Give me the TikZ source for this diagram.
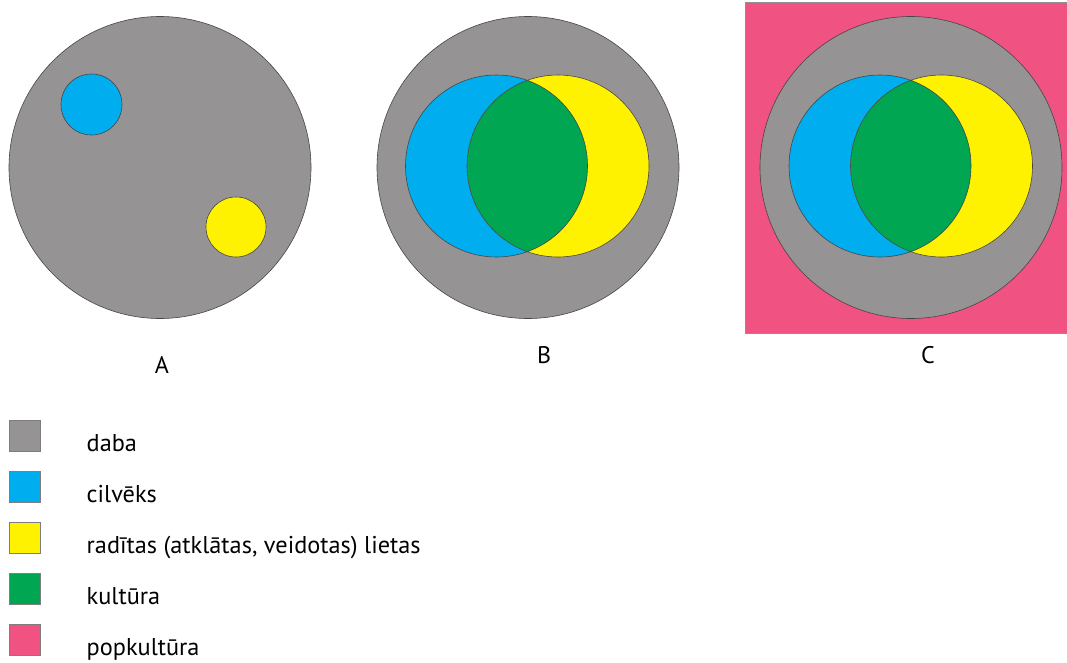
\documentclass[tikz,border=0pt]{standalone}
\usepackage{fontspec}
\setmainfont{PT Sans}
\definecolor{dabagray}{RGB}{149,147,148}
\definecolor{cilvblue}{RGB}{0,174,239}
\definecolor{radyellow}{RGB}{255,242,0}
\definecolor{kultgreen}{RGB}{0,166,81}
\definecolor{poppink}{RGB}{240,82,130}
\definecolor{edgegray}{RGB}{70,70,70}
\usetikzlibrary{positioning}

\begin{document}
\begin{tikzpicture}[x=1pt,y=-1pt,
      c/.style={draw=edgegray,line width=0.6pt},
      sq/.style={draw=edgegray!70,line width=0.5pt,minimum width=31pt,
                 minimum height=31pt,inner sep=0pt},
      lb/.style={font=\fontsize{24.3}{28}\selectfont,anchor=base west,inner sep=0pt},
      ttl/.style={font=\fontsize{24}{28}\selectfont,inner sep=0pt}]
  \useasboundingbox (0,0) rectangle (1067,662);
  % A
  \fill[dabagray,c] (160,167.5) circle (151);
  \fill[cilvblue,c] (91.5,104.5) circle (30.5);
  \fill[radyellow,c] (236,227) circle (30);
  \node[ttl] (la) at (162,365) {A};
  % B
  \fill[dabagray,c] (528,167.5) circle (151);
  \fill[cilvblue] (496.5,166) circle (91);
  \fill[radyellow] (558,166) circle (91);
  \begin{scope}
    \clip (496.5,166) circle (91);
    \fill[kultgreen] (558,166) circle (91);
  \end{scope}
  \draw[c] (496.5,166) circle (91) (558,166) circle (91);
  \node[ttl] (lb) at (544,355) {B};
  % C
  \fill[poppink,draw=edgegray!60,line width=0.5pt] (745,2.5) rectangle (1067,333);
  \fill[dabagray,c] (911,167.5) circle (151);
  \fill[cilvblue] (880,166) circle (91);
  \fill[radyellow] (941.5,166) circle (91);
  \begin{scope}
    \clip (880,166) circle (91);
    \fill[kultgreen] (941.5,166) circle (91);
  \end{scope}
  \draw[c] (880,166) circle (91) (941.5,166) circle (91);
  \node[ttl] (lc) at (928,355) {C};
  % legend
  \foreach \col/\txt [count=\i from 0] in {dabagray/daba,cilvblue/cilvēks,
      radyellow/{radītas (atklātas, veidotas) lietas},kultgreen/kultūra,
      poppink/popkultūra}{
    \node[sq,fill=\col] (s\i) at (24.5,436+51*\i) {};
    \node[lb] (t\i) at (86.5,451+51*\i) {\txt};
  }
\end{tikzpicture}
\end{document}
